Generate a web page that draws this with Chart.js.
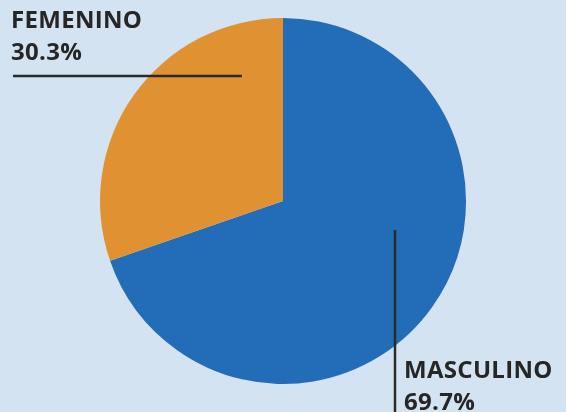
<!DOCTYPE html>
<html>
<head>
<meta charset="utf-8">
<script src="https://cdn.jsdelivr.net/npm/chart.js@4"></script>
<style>
  html, body { margin: 0; padding: 0; background: #d3e3f1; }
  #wrap { width: 566px; height: 412px; }
</style>
</head>
<body>
<div id="wrap"><canvas id="graficoSexo" width="566" height="412"></canvas></div>
<script>
// datos del grafico
const categorias = ['MASCULINO', 'FEMENINO'];
const porcentajes = [69.7, 30.3];
const colores = ['#236cb7', '#e09233'];

// etiquetas con linea guia (posicion de texto y linea)
const etiquetasPlugin = {
    id: 'etiquetas',
    afterDraw(chart) {
        const ctx = chart.ctx;
        ctx.save();
        ctx.fillStyle = '#262626';
        ctx.strokeStyle = '#2a2a2a';
        ctx.lineWidth = 2.5;
        ctx.font = 'bold 24px "Open Sans", sans-serif';
        ctx.letterSpacing = '0.3px';
        ctx.textBaseline = 'alphabetic';
        ctx.textAlign = 'left';

        // FEMENINO
        ctx.fillText(categorias[1], 11, 28);
        ctx.fillText(porcentajes[1].toFixed(1) + '%', 11, 60);
        ctx.beginPath();
        ctx.moveTo(13, 76);
        ctx.lineTo(242, 76);
        ctx.stroke();

        // MASCULINO
        ctx.fillText(categorias[0], 404, 378);
        ctx.fillText(porcentajes[0].toFixed(1) + '%', 404, 410);
        ctx.beginPath();
        ctx.moveTo(395, 230);
        ctx.lineTo(395, 412);
        ctx.stroke();
        ctx.restore();
    }
};

document.addEventListener('DOMContentLoaded', function(){
    const ctx = document.getElementById('graficoSexo').getContext('2d');
    new Chart(ctx, {
        type: 'pie',
        data: {
            labels: categorias,
            datasets: [{
                data: porcentajes,
                backgroundColor: colores,
                borderWidth: 0
            }]
        },
        options: {
            responsive: false,
            animation: false,
            layout: { padding: { top: 18, bottom: 28 } },
            plugins: {
                legend: { display: false },
                tooltip: { enabled: false }
            }
        },
        plugins: [etiquetasPlugin]
    });
});
</script>
</body>
</html>
